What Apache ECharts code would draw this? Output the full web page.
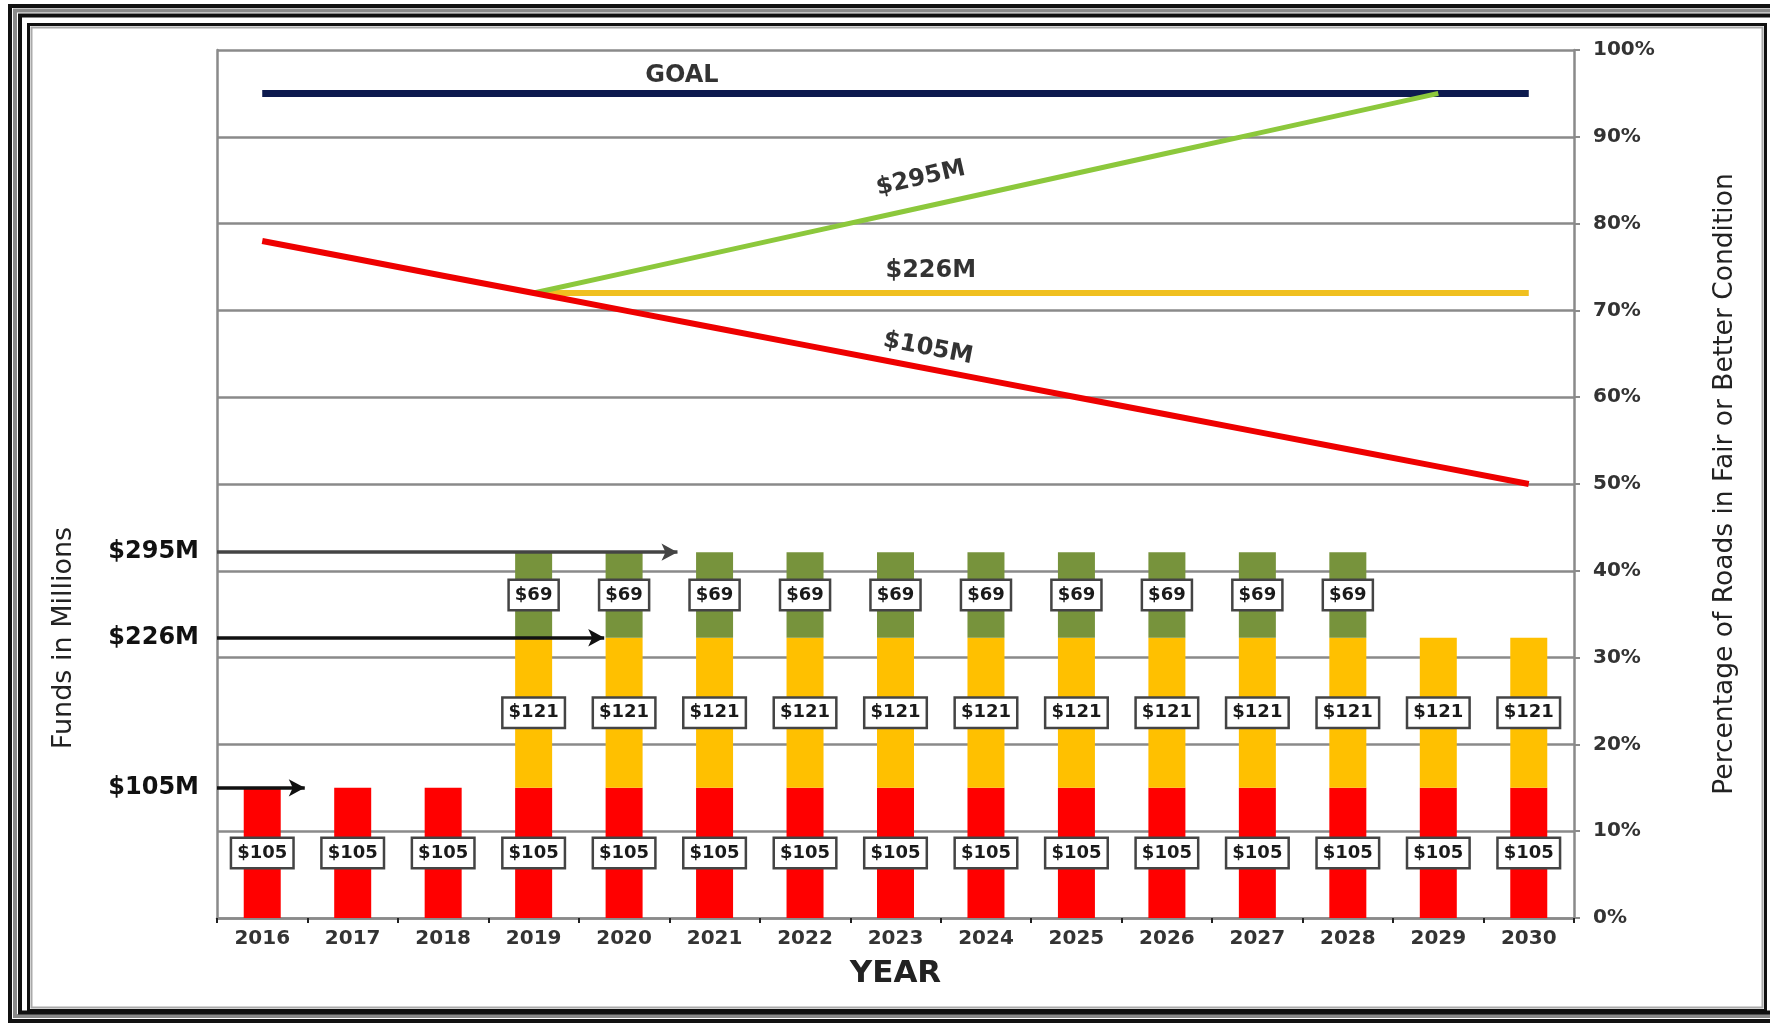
<!DOCTYPE html>
<html>
<head>
<meta charset="utf-8">
<script src="https://cdn.jsdelivr.net/npm/echarts@6/dist/echarts.min.js"></script>
<style>
html,body{margin:0;padding:0;background:#fff;}
#chart{width:1770px;height:1023px;}
</style>
</head>
<body>
<div id="chart"></div>
<script>
// ---- data ----
const years = ['2016','2017','2018','2019','2020','2021','2022','2023','2024','2025','2026','2027','2028','2029','2030'];
const funds105 = [105,105,105,105,105,105,105,105,105,105,105,105,105,105,105];
const funds121 = [null,null,null,121,121,121,121,121,121,121,121,121,121,121,121];
const funds69  = [null,null,null,69,69,69,69,69,69,69,69,69,69,null,null];
const goalPct  = [95,95,95,95,95,95,95,95,95,95,95,95,95,95,95];
const pct105   = [78,76,74,72,70,68,66,64,62,60,58,56,54,52,50];
const pct226   = [null,null,null,72,72,72,72,72,72,72,72,72,72,72,72];
const pct295   = [null,null,null,72,74.3,76.6,78.9,81.2,83.5,85.8,88.1,90.4,92.7,95,null];
const fundLevels = [295,226,105];
const fundLevelLabels = ['$295M','$226M','$105M'];

const FONT = 'DejaVu Sans';
const chart = echarts.init(document.getElementById('chart'), null, {renderer:'canvas'});

const barLabel = {
  show:true, position:'inside',
  formatter: p => '$' + p.value,
  fontFamily:FONT, fontSize:18, fontWeight:'bold', color:'#1a1a1a',
  backgroundColor:'#fff', borderColor:'#444', borderWidth:2.5, padding:[5,5]
};
const annoText = {fontFamily:FONT, fontSize:24, fontWeight:'bold', color:'#000'};

const arrowEnds = [4.59, 3.78, 0.47];
const arrowColors = ['#444','#111','#111'];

const option = {
  animation:false,
  backgroundColor:'#fff',
  textStyle:{fontFamily:FONT},
  grid:{left:217, right:196, top:50, bottom:105},
  xAxis:[
    {type:'category', data:years,
     axisLine:{lineStyle:{color:'#8a8a8a', width:2.5}},
     axisTick:{show:true, interval:0, alignWithLabel:false, length:5, lineStyle:{color:'#222', width:2}},
     axisLabel:{interval:0, color:'#333', fontSize:20, fontWeight:'bold', margin:11, fontFamily:FONT},
     name:'YEAR', nameLocation:'middle', nameGap:40,
     nameTextStyle:{fontSize:31, fontWeight:'bold', color:'#222', fontFamily:FONT}},
    {type:'value', min:-0.5, max:14.5, show:false}
  ],
  yAxis:[
    {type:'value', min:0, max:700, position:'left',
     axisLine:{show:true, onZero:false, lineStyle:{color:'#8a8a8a', width:2.5}},
     axisLabel:{show:false}, axisTick:{show:false}, splitLine:{show:false}},
    {type:'value', min:0, max:100, interval:10, position:'right',
     axisLine:{show:true, onZero:false, lineStyle:{color:'#8a8a8a', width:2.5}},
     axisTick:{show:true, length:6, lineStyle:{color:'#8a8a8a', width:2}},
     axisLabel:{formatter:'{value}%', color:'#333', fontSize:20, fontWeight:'bold', margin:19, fontFamily:FONT},
     splitLine:{lineStyle:{color:'#8a8a8a', width:2.5}},
     name:'Percentage of Roads in Fair or Better Condition', nameLocation:'middle', nameRotate:90, nameGap:138,
     nameTextStyle:{fontSize:26.5, color:'#222', fontFamily:FONT}}
  ],
  graphic:[
    {type:'rect', silent:true, shape:{x:10, y:6, width:1800, height:1015}, style:{fill:null, stroke:'#111', lineWidth:4}},
    {type:'rect', silent:true, shape:{x:15, y:10.5, width:1800, height:1005.5}, style:{fill:null, stroke:'#8a8a8a', lineWidth:4}},
    {type:'rect', silent:true, shape:{x:20, y:15.5, width:1800, height:997}, style:{fill:null, stroke:'#111', lineWidth:4}},
    {type:'rect', silent:true, shape:{x:28.5, y:24.5, width:1737, height:986}, style:{fill:'#fff', stroke:'#111', lineWidth:3}, z:-10},
    {type:'rect', silent:true, shape:{x:31.5, y:27.5, width:1731, height:980}, style:{fill:null, stroke:'#aaa', lineWidth:2}},
    {type:'text', silent:true, x:64, y:638, rotation:Math.PI/2,
     style:{text:'Funds in Millions', fontFamily:FONT, fontSize:27, fill:'#222', textAlign:'center', textVerticalAlign:'middle'}}
  ],
  series:[
    {type:'bar', name:'$105', stack:'funds', data:funds105, barWidth:37, itemStyle:{color:'#ff0000'}, label:barLabel, z:2},
    {type:'bar', name:'$121', stack:'funds', data:funds121, barWidth:37, itemStyle:{color:'#ffc000'}, label:barLabel, z:2},
    {type:'bar', name:'$69',  stack:'funds', data:funds69,  barWidth:37, itemStyle:{color:'#77933c'}, label:barLabel, z:2},
    {type:'line', name:'GOAL', yAxisIndex:1, data:goalPct, symbol:'none', lineStyle:{color:'#0d1a4f', width:7}, z:3},
    {type:'line', name:'$226M', yAxisIndex:1, data:pct226, symbol:'none', lineStyle:{color:'#f0c020', width:6}, z:3},
    {type:'line', name:'$295M', yAxisIndex:1, data:pct295, symbol:'none', lineStyle:{color:'#8cc83c', width:5}, z:4},
    {type:'line', name:'$105M', yAxisIndex:1, data:pct105, symbol:'none', lineStyle:{color:'#ee0000', width:6}, z:5},
    {type:'scatter', xAxisIndex:1, yAxisIndex:1, symbolSize:1, itemStyle:{color:'rgba(0,0,0,0)'}, z:6,
     label:Object.assign({show:true, position:'inside'}, annoText),
     data:[
       {value:[4.64, 97.0], label:{formatter:'GOAL', fontSize:24}},
       {value:[7.28, 85.2], label:{formatter:'$295M', rotate:13}},
       {value:[7.39, 74.6], label:{formatter:'$226M'}},
       {value:[7.36, 65.6], label:{formatter:'$105M', rotate:-11}}
     ]},
    {type:'line', xAxisIndex:1, yAxisIndex:0, data:[], z:7,
     markLine:{
       silent:true, symbol:['none','arrow'], symbolSize:[13,16],
       data: fundLevels.map((v,i) => [
         {coord:[-0.5, v], lineStyle:{color:arrowColors[i], width:3.5, type:'solid'},
          label:{show:true, position:'start', formatter:fundLevelLabels[i], distance:18,
                 fontFamily:FONT, fontSize:24, fontWeight:'bold', color:'#111'}},
         {coord:[arrowEnds[i], v]}
       ])
     }}
  ]
};
chart.setOption(option);
</script>
</body>
</html>
